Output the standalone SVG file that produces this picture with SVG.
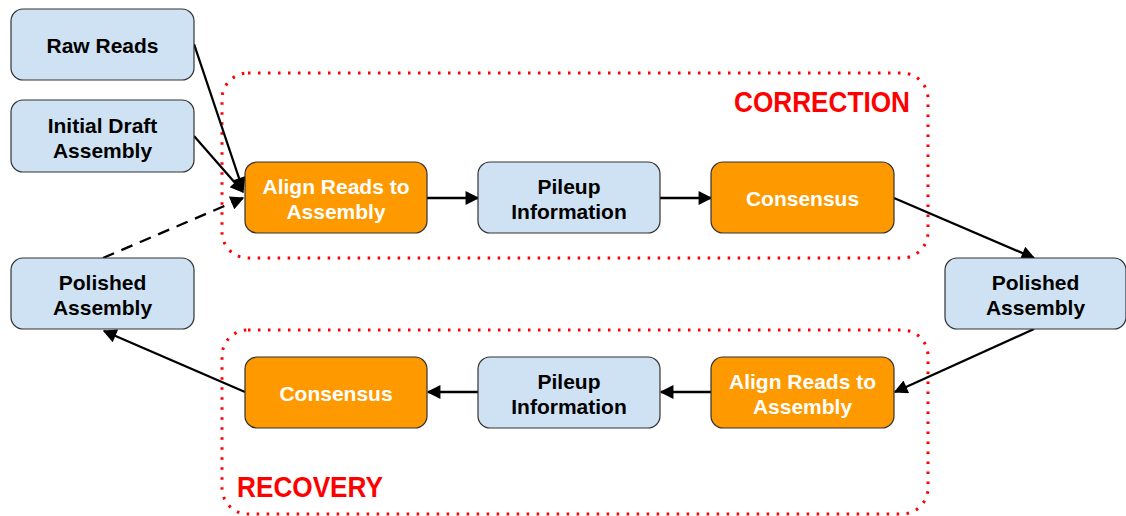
<svg xmlns="http://www.w3.org/2000/svg" width="1126" height="516" viewBox="0 0 1126 516">
<style>
.blue{fill:#cfe2f3;stroke:#333;stroke-width:1.2}
.orange{fill:#ff9900;stroke:#333;stroke-width:1.2}
.t{font-family:"Liberation Sans",Arial,sans-serif;font-weight:bold;font-size:21px;text-anchor:middle}
.dk{fill:#000}
.wh{fill:#fff}
.grp{fill:none;stroke:#ff0000;stroke-width:3;stroke-dasharray:2.5 7.5}
.lbl{font-family:"Liberation Sans",Arial,sans-serif;font-weight:bold;font-size:29px;fill:#ff0000}
.c{stroke:#000;stroke-width:2.3;fill:none;marker-end:url(#ah)}
.d{stroke-dasharray:12 8}
</style>
<defs>
<marker id="ah" viewBox="0 0 10 10" refX="9" refY="5" markerWidth="7" markerHeight="6" markerUnits="strokeWidth" orient="auto">
<path d="M0,0 L10,5 L0,10 z" fill="#000"/>
</marker>
</defs>
<rect width="1126" height="516" fill="#fff"/>
<g id="correction-group">
<rect class="grp" x="222" y="73" width="706" height="185" rx="26"/>
<text class="lbl" x="910" y="112" text-anchor="end" textLength="176" lengthAdjust="spacingAndGlyphs">CORRECTION</text>
</g>
<g id="recovery-group">
<rect class="grp" x="222" y="330" width="706" height="184" rx="26"/>
<text class="lbl" x="237" y="497" textLength="146" lengthAdjust="spacingAndGlyphs">RECOVERY</text>
</g>
<g id="connectors">
<path class="c" d="M194,44 L243,190"/>
<path class="c" d="M194,136 L243,192"/>
<path class="c d" d="M103,258 L243,198"/>
<path class="c" d="M427,198 L478,198"/>
<path class="c" d="M660,198 L711,198"/>
<path class="c" d="M894,198 L1034,258"/>
<path class="c" d="M1034,329 L895,392"/>
<path class="c" d="M711,392 L661,392"/>
<path class="c" d="M478,392 L428,392"/>
<path class="c" d="M245,392 L104,331"/>
</g>
<g id="raw-reads">
<rect class="blue" x="11" y="9" width="183" height="71" rx="12"/>
<text class="t dk" x="102.5" y="52.5">Raw Reads</text>
</g>
<g id="initial-draft">
<rect class="blue" x="11" y="100" width="183" height="72" rx="12"/>
<text class="t dk" x="102.5" y="132.5">Initial Draft</text>
<text class="t dk" x="102.5" y="157.5">Assembly</text>
</g>
<g id="polished-left">
<rect class="blue" x="11" y="258" width="183" height="71" rx="12"/>
<text class="t dk" x="102.5" y="289.5">Polished</text>
<text class="t dk" x="102.5" y="314.5">Assembly</text>
</g>
<g id="align-top">
<rect class="orange" x="245" y="162" width="182" height="71" rx="12"/>
<text class="t wh" x="336" y="193.5">Align Reads to</text>
<text class="t wh" x="336" y="218.5">Assembly</text>
</g>
<g id="pileup-top">
<rect class="blue" x="478" y="162" width="182" height="71" rx="12"/>
<text class="t dk" x="569" y="193.5">Pileup</text>
<text class="t dk" x="569" y="218.5">Information</text>
</g>
<g id="consensus-top">
<rect class="orange" x="711" y="162" width="183" height="71" rx="12"/>
<text class="t wh" x="802.5" y="205.5">Consensus</text>
</g>
<g id="polished-right">
<rect class="blue" x="945" y="258" width="181" height="71" rx="12"/>
<text class="t dk" x="1035.5" y="289.5">Polished</text>
<text class="t dk" x="1035.5" y="314.5">Assembly</text>
</g>
<g id="align-bottom">
<rect class="orange" x="711" y="357" width="183" height="71" rx="12"/>
<text class="t wh" x="802.5" y="388.5">Align Reads to</text>
<text class="t wh" x="802.5" y="413.5">Assembly</text>
</g>
<g id="pileup-bottom">
<rect class="blue" x="478" y="357" width="182" height="71" rx="12"/>
<text class="t dk" x="569" y="388.5">Pileup</text>
<text class="t dk" x="569" y="413.5">Information</text>
</g>
<g id="consensus-bottom">
<rect class="orange" x="245" y="357" width="182" height="71" rx="12"/>
<text class="t wh" x="336" y="400.5">Consensus</text>
</g>
</svg>
